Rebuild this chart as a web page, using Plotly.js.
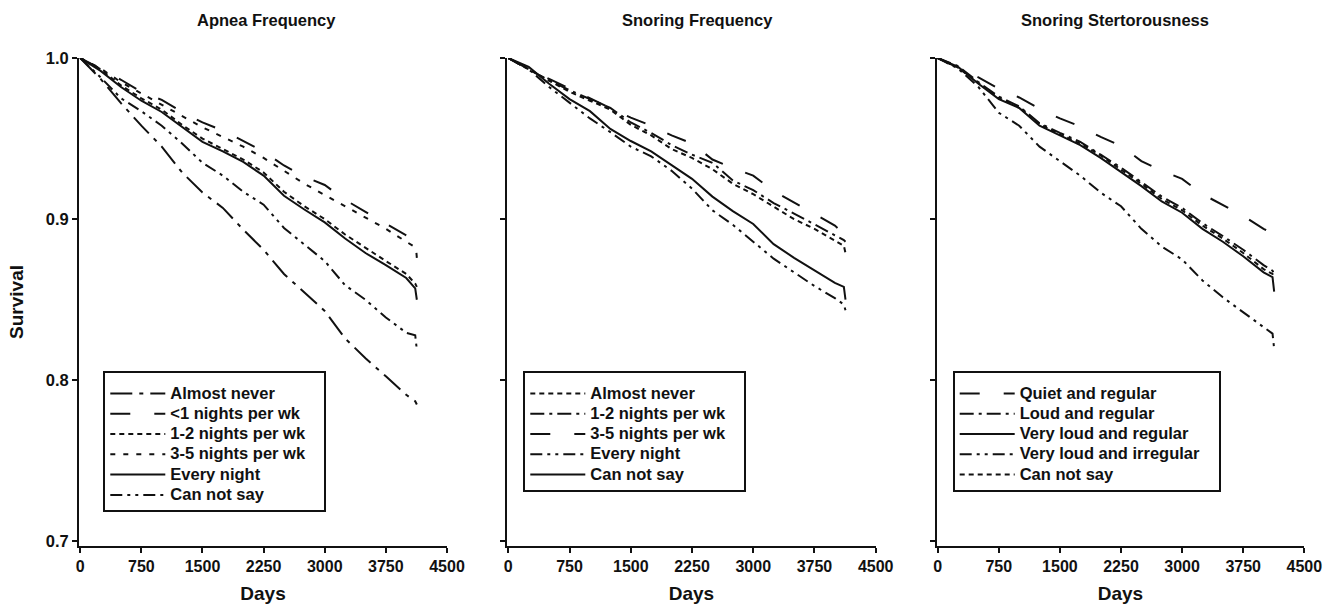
<!DOCTYPE html>
<html><head><meta charset="utf-8">
<script src="https://cdn.plot.ly/plotly-3.0.1.min.js"></script>
<style>html,body{margin:0;padding:0;background:#fff;} #chart{width:1334px;height:604px;}</style>
</head><body><div id="chart"></div>
<script>
// Shared time grid (days)
const days = [0,250,500,750,1000,1250,1500,1750,2000,2250,2500,2750,3000,3250,3500,3750,4000,4110,4130];

// Panel 1: Apnea Frequency
const apneaTitle = 'Apnea Frequency';
const apneaLabels = ['Almost never','&lt;1 nights per wk','1-2 nights per wk','3-5 nights per wk','Every night','Can not say'];
const apneaAlmostNever = [1,0.987,0.972,0.958,0.945,0.929,0.9165,0.907,0.8935,0.881,0.866,0.8545,0.843,0.826,0.8137,0.8025,0.791,0.787,0.785];
const apneaLess1 = [1,0.9935,0.9865,0.979,0.974,0.9665,0.960,0.955,0.9485,0.942,0.9333,0.9265,0.9212,0.912,0.9045,0.897,0.890,0.888,0.876];
const apnea12 = [1,0.993,0.983,0.975,0.968,0.9585,0.950,0.9435,0.937,0.929,0.917,0.908,0.900,0.8905,0.882,0.874,0.866,0.860,0.858];
const apnea35 = [1,0.9935,0.985,0.978,0.9715,0.964,0.957,0.951,0.945,0.938,0.930,0.922,0.915,0.908,0.901,0.894,0.886,0.883,0.882];
const apneaEvery = [1,0.992,0.982,0.9735,0.9665,0.957,0.948,0.942,0.9355,0.927,0.9145,0.906,0.898,0.888,0.879,0.8715,0.8635,0.857,0.850];
const apneaCannot = [1,0.988,0.975,0.967,0.958,0.947,0.935,0.927,0.917,0.909,0.8945,0.884,0.874,0.859,0.850,0.839,0.8295,0.828,0.819];

// Panel 2: Snoring Frequency
const snoreTitle = 'Snoring Frequency';
const snoreLabels = ['Almost never','1-2 nights per wk','3-5 nights per wk','Every night','Can not say'];
const snoreAlmostNever = [1,0.993,0.9855,0.979,0.9735,0.968,0.9585,0.952,0.9435,0.938,0.931,0.922,0.9155,0.908,0.900,0.894,0.887,0.8835,0.879];
const snore12 = [1,0.993,0.986,0.980,0.9745,0.969,0.960,0.9535,0.946,0.940,0.935,0.924,0.918,0.910,0.9035,0.897,0.890,0.887,0.886];
const snore35 = [1,0.993,0.987,0.981,0.975,0.9685,0.963,0.958,0.952,0.947,0.937,0.9317,0.927,0.9175,0.9105,0.903,0.896,0.891,0.888];
const snoreEvery = [1,0.993,0.982,0.972,0.9625,0.954,0.945,0.939,0.930,0.919,0.9055,0.8965,0.886,0.8755,0.867,0.8585,0.851,0.847,0.8435];
const snoreCannot = [1,0.9945,0.984,0.9745,0.967,0.956,0.9485,0.942,0.9335,0.925,0.914,0.905,0.897,0.8845,0.876,0.868,0.8605,0.858,0.850];

// Panel 3: Snoring Stertorousness
const stertTitle = 'Snoring Stertorousness';
const stertLabels = ['Quiet and regular','Loud and regular','Very loud and regular','Very loud and irregular','Can not say'];
const stertQuiet = [1,0.994,0.988,0.981,0.9755,0.9685,0.9625,0.9575,0.951,0.9455,0.936,0.930,0.925,0.9155,0.9085,0.902,0.894,0.891,0.887];
const stertLoud = [1,0.995,0.985,0.976,0.970,0.9595,0.9535,0.948,0.940,0.932,0.923,0.914,0.907,0.8975,0.8895,0.881,0.8715,0.868,0.866];
const stertVeryLoud = [1,0.9945,0.984,0.9745,0.969,0.958,0.952,0.946,0.938,0.9295,0.9205,0.911,0.904,0.894,0.886,0.877,0.867,0.864,0.855];
const stertIrregular = [1,0.9935,0.982,0.966,0.958,0.945,0.936,0.927,0.9165,0.908,0.894,0.883,0.875,0.862,0.8515,0.842,0.833,0.829,0.8195];
const stertCannot = [1,0.994,0.9845,0.975,0.9695,0.959,0.9525,0.947,0.9395,0.931,0.922,0.9125,0.9055,0.896,0.888,0.879,0.869,0.866,0.864];

// Axis ticks
const xTicks = [0,750,1500,2250,3000,3750,4500];
const xTickText = ['0','750','1500','2250','3000','3750','4500'];
const yTicks = [0.7,0.8,0.9,1.0];
const yTickText = ['0.7','0.8','0.9','1.0'];

// Styles
const INK = '#111';
const FONT = 'Liberation Sans, Arial, Helvetica, sans-serif';
const DASH = {
  solid: 'solid',
  short: '5px,4px',
  spaced: '5px,8px',
  longgap: '20px,24px',
  dashdot: '14px,5px,3px,5px',
  dashdotLong: '22px,7px,4px,7px',
  dashdotdot: '12px,5px,3px,5px,3px,5px'
};
const LW = 2;
const legendName = s => '<span style="font-size:16.5px">' + s + '&nbsp;&nbsp;&nbsp;</span>';

function tr(x, y, name, dash, xa, ya, lg) {
  return {type:'scatter', mode:'lines', x:x, y:y, name:legendName(name), xaxis:xa, yaxis:ya, legend:lg,
    line:{color:INK, width:LW, dash:dash}, hoverinfo:'skip'};
}

const data = [
  tr(days, apneaAlmostNever, apneaLabels[0], DASH.dashdotLong, 'x', 'y', 'legend'),
  tr(days, apneaLess1, apneaLabels[1], DASH.longgap, 'x', 'y', 'legend'),
  tr(days, apnea12, apneaLabels[2], DASH.short, 'x', 'y', 'legend'),
  tr(days, apnea35, apneaLabels[3], DASH.spaced, 'x', 'y', 'legend'),
  tr(days, apneaEvery, apneaLabels[4], DASH.solid, 'x', 'y', 'legend'),
  tr(days, apneaCannot, apneaLabels[5], DASH.dashdotdot, 'x', 'y', 'legend'),

  tr(days, snoreAlmostNever, snoreLabels[0], DASH.short, 'x2', 'y2', 'legend2'),
  tr(days, snore12, snoreLabels[1], DASH.dashdot, 'x2', 'y2', 'legend2'),
  tr(days, snore35, snoreLabels[2], DASH.longgap, 'x2', 'y2', 'legend2'),
  tr(days, snoreEvery, snoreLabels[3], DASH.dashdotdot, 'x2', 'y2', 'legend2'),
  tr(days, snoreCannot, snoreLabels[4], DASH.solid, 'x2', 'y2', 'legend2'),

  tr(days, stertQuiet, stertLabels[0], DASH.longgap, 'x3', 'y3', 'legend3'),
  tr(days, stertLoud, stertLabels[1], DASH.dashdot, 'x3', 'y3', 'legend3'),
  tr(days, stertVeryLoud, stertLabels[2], DASH.solid, 'x3', 'y3', 'legend3'),
  tr(days, stertIrregular, stertLabels[3], DASH.dashdotdot, 'x3', 'y3', 'legend3'),
  tr(days, stertCannot, stertLabels[4], DASH.short, 'x3', 'y3', 'legend3')
];

const W = 1334, H = 604, TOP = 58.3, BOT = 545.7;
const PH = BOT - TOP;
const px2x = p => p / W;
const py2y = p => (BOT - p) / PH;

function xAxis(l, r, anchor) {
  return {domain:[px2x(l), px2x(r)], anchor:anchor, range:[-15, 4500], tickvals:xTicks, ticktext:xTickText,
    showgrid:false, zeroline:false, showline:true, linecolor:INK, linewidth:2,
    ticks:'outside', ticklen:5, tickwidth:2, tickcolor:INK,
    tickfont:{family:FONT, size:16, weight:'bold', color:INK},
    title:{text:'Days', font:{family:FONT, size:19, weight:'bold', color:INK}}, fixedrange:true};
}
function yAxis(anchor, labels) {
  return {domain:[0,1], anchor:anchor, range:[0.6972, 1.0], tickvals:yTicks, ticktext:yTickText,
    showticklabels:labels, showgrid:false, zeroline:false, showline:true, linecolor:INK, linewidth:2,
    ticks:'outside', ticklen:5, tickwidth:2, tickcolor:INK,
    tickfont:{family:FONT, size:16.5, weight:'bold', color:INK}, fixedrange:true};
}
function legend(l, t) {
  return {x:px2x(l), y:py2y(t), xanchor:'left', yanchor:'top', bgcolor:'#fff',
    bordercolor:INK, borderwidth:2, font:{family:FONT, size:13.3, weight:'bold', color:INK},
    title:{text:'&nbsp;', font:{family:FONT, size:4, color:'#fff'}},
    itemwidth:55, tracegroupgap:0, itemclick:false, itemdoubleclick:false};
}

const yA1 = yAxis('x', true);
yA1.title = {text:'Survival', standoff:17, font:{family:FONT, size:19, weight:'bold', color:INK}};

const layout = {
  width:W, height:H, margin:{l:0, r:0, t:TOP, b:H-BOT},
  paper_bgcolor:'#fff', plot_bgcolor:'#fff', showlegend:true,
  xaxis: xAxis(79, 447, 'y'),
  xaxis2: xAxis(507.1, 875.7, 'y2'),
  xaxis3: xAxis(936.5, 1304.3, 'y3'),
  yaxis: yA1,
  yaxis2: yAxis('x2', false),
  yaxis3: yAxis('x3', false),
  legend: legend(103.3, 371),
  legend2: legend(523.3, 371),
  legend3: legend(952.7, 371),
  annotations: [
    {text:apneaTitle, x:px2x(266), y:py2y(20.7), xref:'paper', yref:'paper', xanchor:'center', yanchor:'middle', showarrow:false, font:{family:FONT, size:16.5, weight:'bold', color:INK}},
    {text:snoreTitle, x:px2x(697), y:py2y(20.7), xref:'paper', yref:'paper', xanchor:'center', yanchor:'middle', showarrow:false, font:{family:FONT, size:16.5, weight:'bold', color:INK}},
    {text:stertTitle, x:px2x(1114.7), y:py2y(20.7), xref:'paper', yref:'paper', xanchor:'center', yanchor:'middle', showarrow:false, font:{family:FONT, size:16.5, weight:'bold', color:INK}}
  ]
};

Plotly.newPlot('chart', data, layout, {staticPlot:true, displayModeBar:false});
</script>
</body></html>
